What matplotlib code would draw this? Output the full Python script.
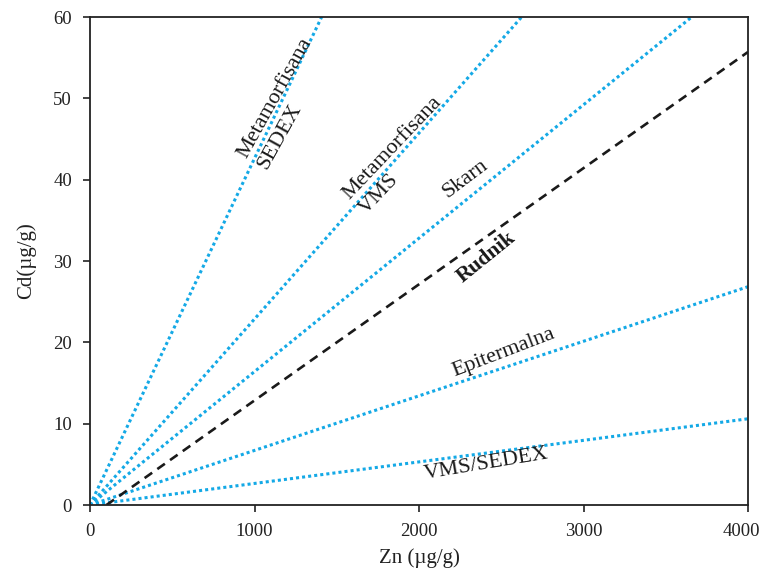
import numpy as np
import matplotlib
matplotlib.use("Agg")
import matplotlib.pyplot as plt
import matplotlib.transforms as mtransforms

plt.rcParams['font.family'] = ['Liberation Serif', 'DejaVu Serif']

# Cd/Zn reference ratios (Cd per unit Zn) for deposit types
deposit_names = ["Metamorfisana\nSEDEX", "Metamorfisana\nVMS", "Skarn", "Epitermalna", "VMS/SEDEX"]
deposit_slopes = [60 / 1408, 60 / 2624, 60 / 3658, 26.84 / 4000, 10.6 / 4000]

# Label anchors (start of last baseline, data units) and screen angles
label_x = [1052, 1660, 2176, 2219, 2037]
label_y = [41.44, 35.9, 37.7, 15.85, 3.16]
label_rot = [61, 46.5, 37, 21, 9.5]

# Mine trend line (Zn, Cd end points)
rudnik_zn = [100, 4000]
rudnik_cd = [0, 55.7]
rudnik_label = (2265, 27.3, 39)

x_ticks = [0, 1000, 2000, 3000, 4000]
y_ticks = [0, 10, 20, 30, 40, 50, 60]

blue = "#14a9e6"

fig = plt.figure(figsize=(7.61, 5.74), dpi=100)
ax = fig.add_axes([90 / 761, 1 - 505 / 574, 658 / 761, 488 / 574])

zn = np.array([0, 4000])
for name, k, lx, ly, rot in zip(deposit_names, deposit_slopes, label_x, label_y, label_rot):
    ax.plot(zn, k * zn, color=blue, lw=2.2, linestyle=(0, (1, 1)),
            dash_capstyle='butt')
    ax.text(lx, ly, name, rotation=rot, rotation_mode='anchor',
            ha='left', va='baseline', multialignment='left',
            fontsize=16, linespacing=1.25, color='#1a1a1a')

ax.plot(rudnik_zn, rudnik_cd, color="#1a1a1a", lw=1.9, linestyle=(0, (3.5, 2.4)))
ax.text(rudnik_label[0], rudnik_label[1], "Rudnik", rotation=rudnik_label[2],
        rotation_mode='anchor', ha='left', va='baseline',
        fontsize=15.5, fontweight='bold', color='#1a1a1a')

ax.set_xlim(0, 4000)
ax.set_ylim(0, 60)
ax.set_xticks(x_ticks)
ax.set_yticks(y_ticks)
ax.tick_params(direction='out', length=5, width=1.2, labelsize=13.5, pad=8,
               colors='#222222')
for s in ax.spines.values():
    s.set_linewidth(1.3)
    s.set_color("#222222")

# keep the last Zn tick label inside the figure edge
last = ax.get_xticklabels()[-1]
last.set_transform(last.get_transform() +
                   mtransforms.ScaledTranslation(-7 / 100, 0, fig.dpi_scale_trans))

ax.set_xlabel("Zn (µg/g)", fontsize=15, labelpad=6, color='#222222')
ax.set_ylabel("Cd(µg/g)", fontsize=15, labelpad=12, color='#222222')

fig.savefig("out.png", dpi=100)
